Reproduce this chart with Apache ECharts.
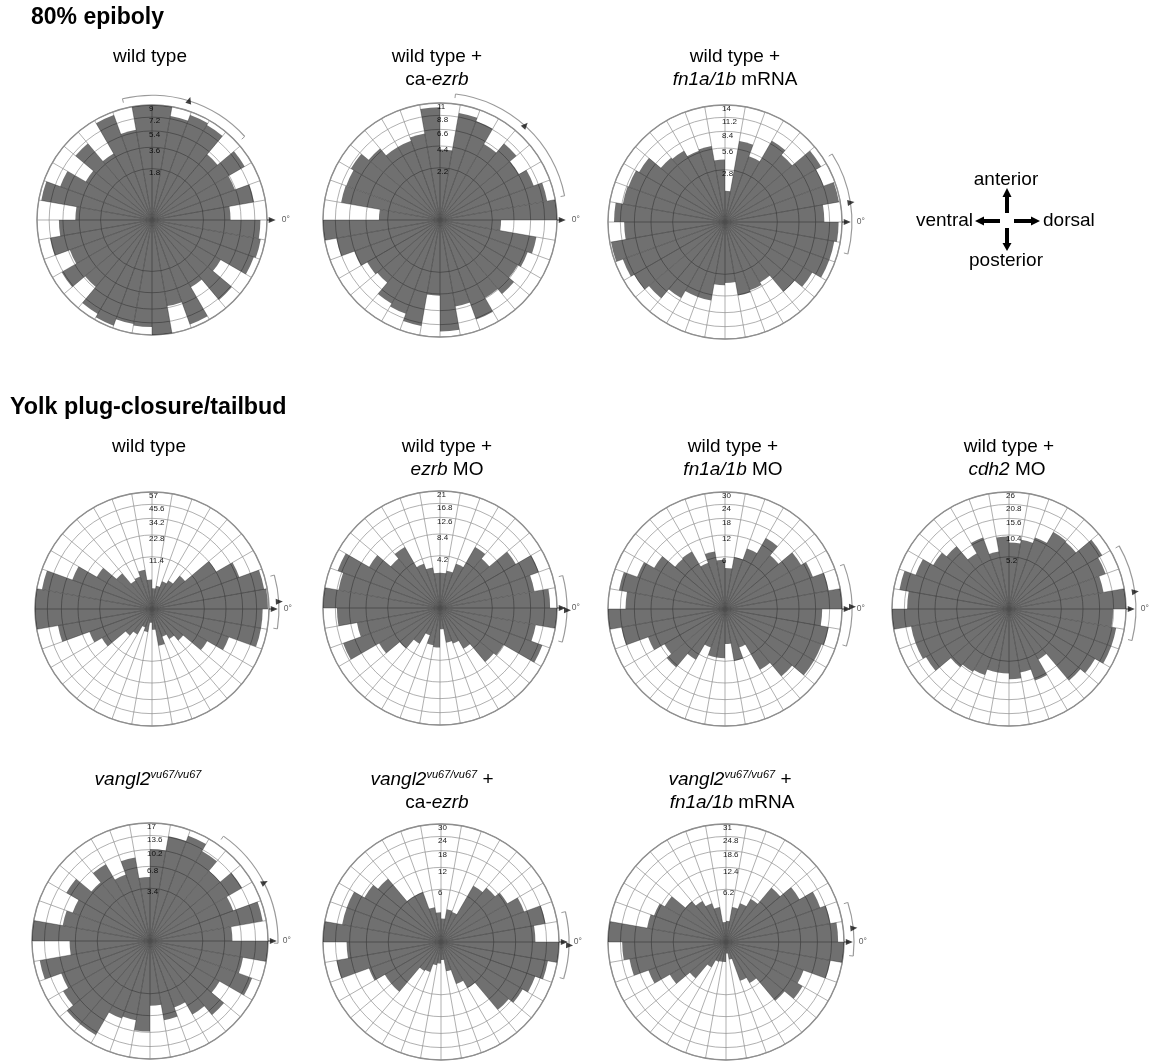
<!DOCTYPE html>
<html lang="en">
<head>
<meta charset="UTF-8">
<title>cell orientation rose diagrams</title>
<script src="https://cdn.jsdelivr.net/npm/echarts@6/dist/echarts.min.js"></script>
<style>
    html, body { margin: 0; padding: 0; background: #fff; }
    #main { width: 1151px; height: 1064px; }
</style>
</head>
<body>
<div id="main"></div>
<script>
// 36 bins of 10 deg, counted counter-clockwise from 0 deg (dorsal, to the right)
var binStart = [0, 10, 20, 30, 40, 50, 60, 70, 80, 90, 100, 110, 120, 130, 140, 150, 160, 170,
                180, 190, 200, 210, 220, 230, 240, 250, 260, 270, 280, 290, 300, 310, 320, 330, 340, 350];

// 80% epiboly
var wt80      = [4.2, 7.3, 5.3, 7.8, 5.0, 8.2, 8.5, 7.6, 9.0, 9.0, 5.7, 8.5, 4.0, 6.8, 4.0, 6.5, 8.6, 4.0,
                 5.9, 7.3, 5.2, 7.4, 5.2, 8.0, 8.6, 7.6, 7.8, 9.0, 5.2, 8.4, 4.1, 7.4, 4.3, 8.0, 8.3, 8.0];
var wt80Ezrb  = [11, 9.5, 8.0, 6.7, 8.0, 6.2, 8.9, 9.5, 4.0, 10.2, 6.2, 5.7, 5.7, 7.0, 8.5, 8.0, 8.1, 3.0,
                 11, 8.9, 6.7, 5.7, 5.4, 7.5, 8.0, 9.3, 4.6, 10.0, 6.2, 9.0, 6.5, 7.5, 6.5, 7.0, 7.7, 3.0];
var wt80Fn    = [10.1, 13.7, 11.3, 12.6, 7.9, 9.0, 5.0, 6.9, 1.0, 4.0, 6.1, 5.9, 6.9, 7.2, 10.1, 10.8, 11.0, 12.6,
                 10.4, 13.7, 12.1, 11.3, 10.1, 7.9, 6.5, 6.5, 4.1, 3.8, 5.7, 5.4, 5.0, 8.5, 10.4, 12.6, 12.6, 13.2];
// yolk plug closure / tailbud
var wtYp      = [56, 54, 36, 23, 7.8, 4.5, 3.6, 2.3, 1.8, 3.6, 6.6, 5.0, 4.5, 9.0, 17, 30, 52, 57,
                 57, 38, 18.5, 14, 5.0, 3.6, 1.6, 2.3, 0.8, 1.8, 5.8, 3.6, 5.0, 7.0, 17, 28, 51, 51];
var ezrbMo    = [18.6, 14.1, 17, 11.8, 6.4, 7.6, 3.4, 2.2, 1.9, 1.9, 2.6, 3.4, 7.6, 6.4, 10.3, 18.2, 16.3, 21,
                 16.3, 10.9, 16.3, 7.6, 4.3, 2.6, 1.3, 2.2, 2.4, 0.7, 1.9, 2.2, 3.4, 7.6, 8.3, 18.2, 14.5, 21];
var fnMo      = [30, 24.3, 19.2, 16.9, 10.8, 14.7, 9.1, 6.1, 3.7, 5.3, 7.5, 5.3, 9.7, 9.4, 14.7, 19.2, 25.4, 21.7,
                 30, 24.3, 14.7, 10.8, 12.7, 7.5, 3.7, 5.3, 5.3, 2.7, 6.1, 3.7, 10.8, 16.9, 23.2, 23.2, 24.3, 20.7];
var cdh2Mo    = [26, 17.5, 20.1, 22, 14.6, 15, 11, 9.4, 8.4, 10, 6.5, 11, 7.9, 12.7, 14.6, 18.8, 23.5, 19.7,
                 26, 18.8, 18.8, 17.5, 11, 10, 9.4, 7.9, 7.9, 9.4, 7.9, 11, 6.5, 16.6, 18.8, 22.5, 22.5, 20.6];
var vangl     = [8.3, 16, 9.6, 13.8, 10.3, 13.2, 15.3, 13.8, 10.3, 5.0, 8.8, 6.1, 9.6, 7.2, 11.4, 8.3, 9.6, 17,
                 7.9, 15.3, 10.9, 12.3, 14.4, 14.4, 8.3, 7.9, 10, 5.1, 7.9, 6.1, 8.8, 11.4, 7.9, 14.4, 10.9, 17];
var vanglEzrb = [19.2, 24.3, 16.9, 12.7, 10.8, 9.1, 2.2, 2.4, 1.2, 1.9, 2.7, 6.1, 6.1, 14.7, 16.9, 21.7, 21.7, 30,
                 19.2, 24.3, 12.7, 9.1, 9.1, 2.4, 2.2, 1.2, 1.0, 0.7, 1.9, 4.3, 6.1, 16.9, 19.2, 21.7, 25.4, 30];
var vanglFn   = [28, 25.1, 22.4, 16.1, 11.2, 5.5, 3.8, 2.8, 1.0, 0.9, 2.8, 3.8, 5.0, 6.3, 11.2, 13.1, 14.3, 31,
                 24, 21.4, 15.2, 9.4, 5.0, 1.9, 1.0, 0.9, 0.9, 0.3, 0.7, 3.8, 5.0, 13.1, 17.4, 15.2, 25.1, 31];

// outer ring value of each diagram
var maxCount = [9, 11, 14, 57, 21, 30, 26, 17, 30, 31];
// mean direction and its confidence arc (deg)
var meanDir = [72.7, 48, 8.8, 3.3, -1, 1, 7.8, 27, -1.5, 6.2];
var arcFrom = [42, 11, -14.6, -9, -15.6, -17, -14.4, -1, -16.7, -6.3];
var arcTo   = [103.7, 83, 32.4, 15.5, 14.8, 20.6, 29.8, 55, 13.7, 18];

var roses = [wt80, wt80Ezrb, wt80Fn, wtYp, ezrbMo, fnMo, cdh2Mo, vangl, vanglEzrb, vanglFn];
var centers = [[152, 220], [440, 220], [725, 222],
               [152, 609], [440, 608], [725, 609], [1009, 609],
               [150, 941], [441, 942], [726, 942]];
var radii = [115, 117, 117, 117, 117, 117, 117, 118, 118, 118];

var FONT = '"Liberation Sans", Arial, sans-serif';
var norm = function (a) { return (a % 360 + 360) % 360; };

var myChart = echarts.init(document.getElementById('main'));

var polar = [], angleAxis = [], radiusAxis = [], series = [];

roses.forEach(function (vals, k) {
    var c = centers[k], R = radii[k], M = maxCount[k];
    var main = 2 * k, ann = 2 * k + 1;

    // categories start at 90 deg (north) so the radius labels sit on the vertical spoke
    var cats = [], bars = [];
    for (var i = 0; i < 36; i++) {
        var b = (i + 9) % 36;
        cats.push(binStart[b]);
        bars.push(Math.sqrt(vals[b]));   // equal-area rose: radius ~ sqrt(count)
    }
    var rings = [0.2, 0.4, 0.6, 0.8, 1].map(function (f) { return Math.sqrt(f * M); });

    polar.push({ center: c, radius: R });
    polar.push({ center: c, radius: R * 1.25 });

    angleAxis.push({
        polarIndex: main, type: 'category', data: cats, startAngle: 90, clockwise: false,
        boundaryGap: true,
        axisLine: { lineStyle: { color: '#8e8e8e', width: 1.4 } },
        axisTick: { show: false, interval: 0 }, axisLabel: { show: false, interval: 0 },
        splitLine: { show: true, interval: 0, lineStyle: { color: '#8e8e8e', width: 0.7 } }
    });
    radiusAxis.push({
        polarIndex: main, type: 'value', min: 0, max: Math.sqrt(M),
        axisLine: { show: false },
        axisTick: { show: false, customValues: rings },
        axisLabel: {
            customValues: rings, inside: true, margin: 3, fontSize: 8, color: '#222',
            fontFamily: FONT, verticalAlign: 'top', align: 'left',
            formatter: function (v) { return String(Number((v * v).toFixed(1))); }
        },
        splitLine: { show: true, lineStyle: { color: '#8e8e8e', width: 0.7 } }
    });
    angleAxis.push({ polarIndex: ann, type: 'value', min: 0, max: 360, startAngle: 0, clockwise: false, show: false });
    radiusAxis.push({ polarIndex: ann, type: 'value', min: 0, max: 1.25, show: false });

    series.push({
        type: 'bar', coordinateSystem: 'polar', polarIndex: main, data: bars,
        barCategoryGap: '0%', silent: true,
        itemStyle: { color: 'rgba(0,0,0,0.56)' }
    });

    // confidence arc
    var span = arcTo[k] - arcFrom[k];
    series.push({
        type: 'pie', center: c, radius: [R * 1.08, R * 1.09], startAngle: arcTo[k], clockwise: true,
        silent: true, label: { show: false }, labelLine: { show: false }, avoidLabelOverlap: false,
        itemStyle: { borderWidth: 0 },
        data: [
            { value: span, itemStyle: { color: '#9a9a9a' } },
            { value: 360 - span, itemStyle: { color: 'rgba(0,0,0,0)' } }
        ]
    });
    [arcFrom[k], arcTo[k]].forEach(function (a) {
        series.push({
            type: 'line', coordinateSystem: 'polar', polarIndex: ann, silent: true, symbol: 'none',
            lineStyle: { color: '#9a9a9a', width: 1 },
            data: [[1.05, norm(a)], [1.085, norm(a)]]
        });
    });
    // 0 deg reference line
    series.push({
        type: 'line', coordinateSystem: 'polar', polarIndex: ann, silent: true, symbol: 'none',
        lineStyle: { color: '#111', width: 0.8 },
        data: [[1.0, 0], [1.04, 0]]
    });
    series.push({
        type: 'scatter', coordinateSystem: 'polar', polarIndex: ann, silent: true,
        symbol: 'triangle', symbolSize: [6, 7], itemStyle: { color: '#111' },
        data: [
            { value: [1.045, 0], symbolRotate: -90,
              label: { show: true, position: 'right', distance: 6, formatter: '0°',
                       fontSize: 8.5, color: '#333', fontFamily: FONT } },
            { value: [1.09, norm(meanDir[k])], symbolRotate: meanDir[k] - 90 }
        ]
    });
});

// ---- text
function txt(x, y, text, opt) {
    opt = opt || {};
    var size = opt.size || 19;
    var base = { fontSize: size, fontFamily: FONT, fill: '#000', color: '#000', lineHeight: 22 };
    return {
        type: 'text', x: x, y: y, silent: true,
        style: {
            text: text, fontSize: size, fontFamily: FONT, fontWeight: opt.bold ? 'bold' : 'normal',
            fill: '#000', align: opt.align || 'center', textAlign: opt.align || 'center',
            verticalAlign: 'middle', textVerticalAlign: 'middle',
            rich: {
                n: base,
                i: echarts.util.extend({ fontStyle: 'italic' }, base),
                s: { fontSize: 11, fontFamily: FONT, fontStyle: 'italic', fill: '#000', color: '#000',
                     lineHeight: 12, verticalAlign: 'top' }
            }
        }
    };
}

var graphic = [
    txt(31, 18, '80% epiboly', { size: 23, bold: true, align: 'left' }),
    txt(10, 408, 'Yolk plug-closure/tailbud', { size: 23.3, bold: true, align: 'left' }),

    txt(150, 57, 'wild type'),
    txt(437, 57, 'wild type +'), txt(437, 80, '{n|ca-}{i|ezrb}'),
    txt(735, 57, 'wild type +'), txt(735, 80, '{i|fn1a/1b}{n| mRNA}'),

    txt(149, 447, 'wild type'),
    txt(447, 447, 'wild type +'), txt(447, 470, '{i|ezrb}{n| MO}'),
    txt(733, 447, 'wild type +'), txt(733, 470, '{i|fn1a/1b}{n| MO}'),
    txt(1009, 447, 'wild type +'), txt(1007, 470, '{i|cdh2}{n| MO}'),

    txt(148, 780, '{i|vangl2}{s|vu67/vu67}'),
    txt(432, 780, '{i|vangl2}{s|vu67/vu67}{n| +}'), txt(437, 803, '{n|ca-}{i|ezrb}'),
    txt(730, 780, '{i|vangl2}{s|vu67/vu67}{n| +}'), txt(732, 803, '{i|fn1a/1b}{n| mRNA}'),

    // body axes key
    txt(1006, 180, 'anterior'),
    txt(1006, 261, 'posterior'),
    txt(973, 221, 'ventral', { align: 'right' }),
    txt(1043, 221, 'dorsal', { align: 'left' }),
    { type: 'line', shape: { x1: 1007, y1: 213, x2: 1007, y2: 196 }, style: { stroke: '#000', lineWidth: 4 } },
    { type: 'polygon', shape: { points: [[1002.5, 197], [1011.5, 197], [1007, 188]] }, style: { fill: '#000' } },
    { type: 'line', shape: { x1: 1007, y1: 228, x2: 1007, y2: 244 }, style: { stroke: '#000', lineWidth: 4 } },
    { type: 'polygon', shape: { points: [[1002.5, 243], [1011.5, 243], [1007, 251]] }, style: { fill: '#000' } },
    { type: 'line', shape: { x1: 1000, y1: 221, x2: 983, y2: 221 }, style: { stroke: '#000', lineWidth: 4 } },
    { type: 'polygon', shape: { points: [[984, 216.5], [984, 225.5], [975, 221]] }, style: { fill: '#000' } },
    { type: 'line', shape: { x1: 1014, y1: 221, x2: 1032, y2: 221 }, style: { stroke: '#000', lineWidth: 4 } },
    { type: 'polygon', shape: { points: [[1031, 216.5], [1031, 225.5], [1040, 221]] }, style: { fill: '#000' } }
];

var option = {
    backgroundColor: '#fff',
    animation: false,
    polar: polar,
    angleAxis: angleAxis,
    radiusAxis: radiusAxis,
    series: series,
    graphic: graphic
};
myChart.setOption(option);
</script>
</body>
</html>
